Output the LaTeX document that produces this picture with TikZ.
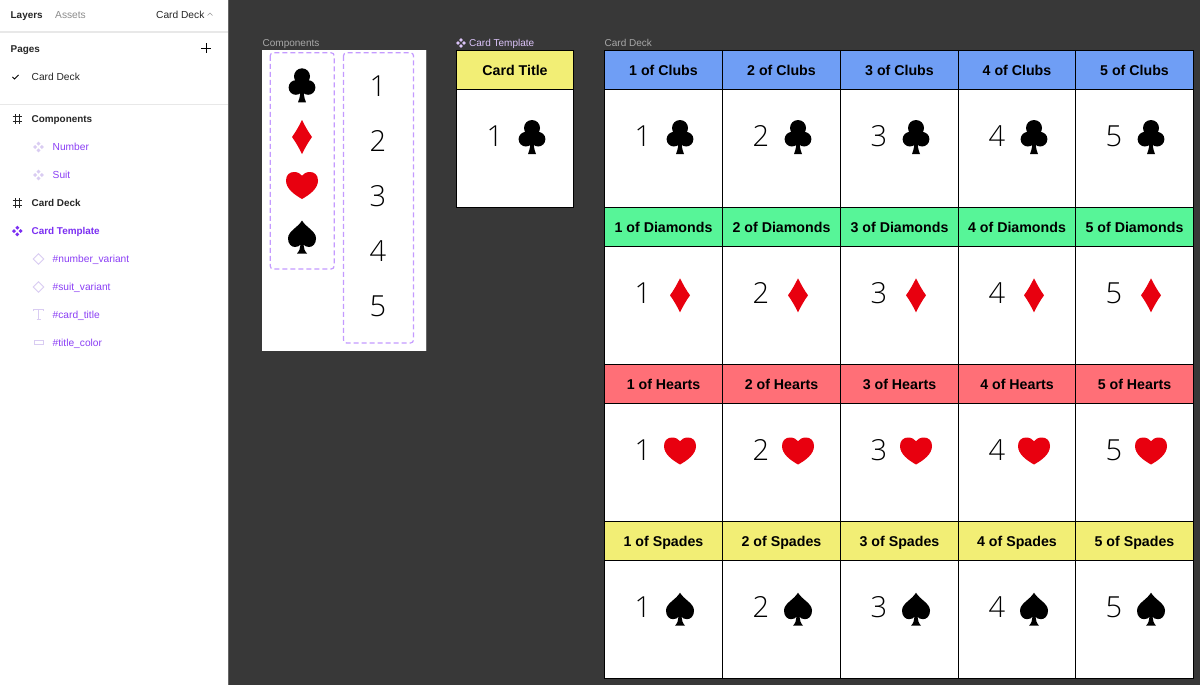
\documentclass[tikz,border=0pt]{standalone}
\usepackage{fontspec}
\setmainfont{Liberation Sans}
\newfontfamily\numfont{Open Sans Light}
\definecolor{canvasbg}{HTML}{383838}
\definecolor{rule}{HTML}{E8E8E8}
\definecolor{purpleA}{HTML}{7B2FF2}
\definecolor{purpleB}{HTML}{8B3FF5}
\definecolor{iconlilac}{HTML}{D9CCF2}
\definecolor{frameLabel}{HTML}{A8A8A8}
\definecolor{lilac}{HTML}{DCC4FA}
\definecolor{dashlilac}{HTML}{C49AFF}
\definecolor{bluebar}{HTML}{6F9EF5}
\definecolor{greenbar}{HTML}{57F598}
\definecolor{redbar}{HTML}{FF6F77}
\definecolor{yellowbar}{HTML}{F2EE75}
\definecolor{suitred}{HTML}{E8000F}
\tikzset{
 x=1pt,y=-1pt,
 sidetext/.style={anchor=west,inner sep=0pt,text height=9.8pt,text depth=2.5pt,font=\fontsize{10.2}{12}\selectfont,text=black!85},
 sidebold/.style={sidetext,font=\fontsize{9.9}{12}\selectfont\bfseries},
 sidepurple/.style={sidetext,text=purpleB},
 framelabel/.style={anchor=west,inner sep=0pt,text height=9.8pt,text depth=2.5pt,font=\fontsize{10}{12}\selectfont,text=frameLabel},
 titletext/.style={inner sep=0pt,text height=13pt,text depth=2.8pt,font=\fontsize{14.2}{16}\selectfont\bfseries,text=black},
 numtext/.style={inner sep=0pt,text height=20.7pt,text depth=0pt,font=\fontsize{29}{30}\selectfont\numfont,text=black},
 cardline/.style={draw=black,line width=.9pt},
 dashbox/.style={draw=dashlilac,line width=1.2pt,dash pattern=on 5pt off 3pt,rounded corners=3pt},
 clubmark/.pic={\fill[black] (0,-9) circle[radius=8] (-6.1,2.2) circle[radius=7.3] (6.1,2.2) circle[radius=7.3];
   \fill[black] (-1.6,-4) -- (1.6,-4) -- (1.8,8) .. controls (2.2,12) and (3,15) .. (4,17) -- (-4,17) .. controls (-3,15) and (-2.2,12) .. (-1.8,8) -- cycle;},
 diamondmark/.pic={\fill[suitred] (0,-17) .. controls (3,-11) and (6,-5.5) .. (10,0) .. controls (6,5.5) and (3,11) .. (0,17) .. controls (-3,11) and (-6,5.5) .. (-10,0) .. controls (-6,-5.5) and (-3,-11) .. (0,-17) -- cycle;},
 diamonddeck/.pic={\path (0,1.3) pic {diamondmark};},
 heartmark/.pic={\fill[suitred] (0,13.5) .. controls (-8,9) and (-16,3) .. (-16,-5) .. controls (-16,-10.5) and (-12.5,-13.5) .. (-8,-13.5) .. controls (-4.5,-13.5) and (-1.5,-12) .. (0,-9.8) .. controls (1.5,-12) and (4.5,-13.5) .. (8,-13.5) .. controls (12.5,-13.5) and (16,-10.5) .. (16,-5) .. controls (16,3) and (8,9) .. (0,13.5) -- cycle;},
 spademark/.pic={\fill[black] (0,-16.5) .. controls (-4,-9.5) and (-14,-6) .. (-14,1.5) .. controls (-14,7) and (-10.5,10) .. (-7,10) .. controls (-4.5,10) and (-2.5,9) .. (-1.5,7.5) .. controls (-1.5,11) and (-3,14.5) .. (-5,16.5) -- (5,16.5) .. controls (3,14.5) and (1.5,11) .. (1.5,7.5) .. controls (2.5,9) and (4.5,10) .. (7,10) .. controls (10.5,10) and (14,7) .. (14,1.5) .. controls (14,-6) and (4,-9.5) .. (0,-16.5) -- cycle;},
 spadedeck/.pic={\path (0,1.2) pic {spademark};},
 compmark/.pic={\foreach \a/\b in {0/-3.3,0/3.3,-3.3/0,3.3/0}{\fill[pic actions] (\a,\b-2) -- (\a+2,\b) -- (\a,\b+2) -- (\a-2,\b) -- cycle;}},
 hashmark/.pic={\draw[black!85,line width=1pt] (-2.2,-4.7) -- (-2.2,4.7) (2.2,-4.7) -- (2.2,4.7) (-4.7,-2.2) -- (4.7,-2.2) (-4.7,2.2) -- (4.7,2.2);},
 varmark/.pic={\draw[iconlilac,line width=.8pt] (0,-5.2) -- (5.2,0) -- (0,5.2) -- (-5.2,0) -- cycle;},
}
% #1 left, #2 top, #3 right, #4 bottom, #5 title, #6 colour, #7 digit, #8 suit pic, #9 node id
\newcommand\playcard[9]{%
 \fill[white] (#1,#2) rectangle (#3,#4);
 \fill[#6] (#1,#2) rectangle (#3,#2+39);
 \draw[cardline] (#1,#2+39) -- (#3,#2+39);
 \draw[cardline] (#1,#2) rectangle (#3,#4);
 \node[titletext] (title#9) at ({(#1+#3)/2},#2+19.8) {#5};
 \node[numtext] (num#9) at (#1+38.5,#2+85.8) {#7};
 \path (#1+75.5,#2+86.5) pic {#8};
}
\newcommand\cardrow[5]{%
 \playcard{604.5}{#1}{722.5}{#1+157}{1 of #2}{#3}{1}{#4}{1#5}
 \playcard{722.5}{#1}{840.5}{#1+157}{2 of #2}{#3}{2}{#4}{2#5}
 \playcard{840.5}{#1}{958.5}{#1+157}{3 of #2}{#3}{3}{#4}{3#5}
 \playcard{958.5}{#1}{1075.5}{#1+157}{4 of #2}{#3}{4}{#4}{4#5}
 \playcard{1075.5}{#1}{1193.5}{#1+157}{5 of #2}{#3}{5}{#4}{5#5}
}
\begin{document}
\begin{tikzpicture}
\useasboundingbox (0,0) rectangle (1200,685);
\fill[canvasbg] (0,0) rectangle (1200,685);
% sidebar
\fill[white] (0,0) rectangle (228,685);
\draw[black!60,line width=.6pt] (228.3,0) -- (228.3,685);
\draw[rule,line width=1.5pt] (0,32) -- (228,32);
\draw[rule,line width=1pt] (0,104.5) -- (228,104.5);
\node[sidebold] (tabLayers) at (10.5,14.5) {Layers};
\node[sidetext,text=black!45] (tabAssets) at (55,14.5) {Assets};
\node[sidetext] (pageName) at (156,14.5) {Card Deck};
\draw[black!40,line width=.7pt] (207.5,15.5) -- (210,13) -- (212.5,15.5);
\node[sidebold] (pagesHead) at (10.5,49) {Pages};
\draw[black,line width=.9pt] (201,48.5) -- (211,48.5) (206,43.5) -- (206,53.5);
\draw[black,line width=1pt] (12.5,77) -- (14.5,79) -- (18.5,75);
\node[sidetext] (pageItem) at (31.5,77) {Card Deck};
\path (17.3,119) pic {hashmark};
\node[sidebold] (lyrComponents) at (31.5,119) {Components};
\path (38.5,147) pic[fill=iconlilac] {compmark};
\node[sidepurple] (lyrNumber) at (52.5,147) {Number};
\path (38.5,175) pic[fill=iconlilac] {compmark};
\node[sidepurple] (lyrSuit) at (52.5,175) {Suit};
\path (17.3,203) pic {hashmark};
\node[sidebold] (lyrDeck) at (31.5,203) {Card Deck};
\path (17.3,231) pic[fill=purpleA] {compmark};
\node[sidebold,text=purpleA] (lyrTemplate) at (31.5,231) {Card Template};
\path (38.5,259) pic {varmark};
\node[sidepurple] (lyrNumVar) at (52.5,259) {\#number\_variant};
\path (38.5,287) pic {varmark};
\node[sidepurple] (lyrSuitVar) at (52.5,287) {\#suit\_variant};
\draw[iconlilac,line width=.9pt] (33.5,311) -- (33.5,309.5) -- (43.5,309.5) -- (43.5,311) (38.5,309.5) -- (38.5,319) (36.5,319) -- (40.5,319);
\node[sidepurple] (lyrTitle) at (52.5,314.5) {\#card\_title};
\draw[iconlilac,line width=.9pt] (34,340.5) rectangle (43,344);
\node[sidepurple] (lyrColor) at (52.5,342.5) {\#title\_color};
% frame labels
\node[framelabel] (lblComponents) at (262.5,43) {Components};
\path (461,43) pic[fill=lilac,scale=.9] {compmark};
\node[framelabel,text=lilac] (lblTemplate) at (469,43) {Card Template};
\node[framelabel] (lblDeck) at (604.5,43) {Card Deck};
% components frame
\fill[white] (262,50.5) rectangle (426,351);
\draw[black!60,line width=.5pt] (426,50.5) -- (426,351);
\draw[dashbox] (270.2,52.8) rectangle (334.2,269);
\draw[dashbox] (343.5,52.8) rectangle (413.5,343);
\path (302,85.3) pic {clubmark};
\path (302,137) pic {diamondmark};
\path (302,185.5) pic {heartmark};
\path (302,237) pic {spademark};
\node[numtext] (cn1) at (378,86) {1};
\node[numtext] (cn2) at (378,141) {2};
\node[numtext] (cn3) at (378,196) {3};
\node[numtext] (cn4) at (378,251.5) {4};
\node[numtext] (cn5) at (378,306.5) {5};
% template
\playcard{456.5}{50.5}{573.5}{207.5}{Card Title}{yellowbar}{1}{clubmark}{T}
% deck
\cardrow{50.5}{Clubs}{bluebar}{clubmark}{C}
\cardrow{207.5}{Diamonds}{greenbar}{diamonddeck}{D}
\cardrow{364.5}{Hearts}{redbar}{heartmark}{H}
\cardrow{521.5}{Spades}{yellowbar}{spadedeck}{S}
\end{tikzpicture}
\end{document}
